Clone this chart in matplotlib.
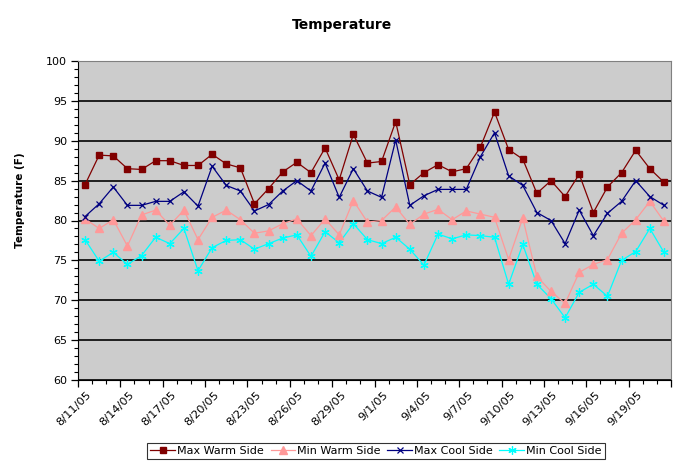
import matplotlib
matplotlib.use("Agg")
import matplotlib.pyplot as plt
from matplotlib.ticker import MultipleLocator, FixedLocator
import numpy as np

# one reading per day, 8/11/05 .. 9/21/05
dates = ["8/11/05", "8/12/05", "8/13/05", "8/14/05", "8/15/05", "8/16/05", "8/17/05",
         "8/18/05", "8/19/05", "8/20/05", "8/21/05", "8/22/05", "8/23/05", "8/24/05",
         "8/25/05", "8/26/05", "8/27/05", "8/28/05", "8/29/05", "8/30/05", "8/31/05",
         "9/1/05", "9/2/05", "9/3/05", "9/4/05", "9/5/05", "9/6/05", "9/7/05",
         "9/8/05", "9/9/05", "9/10/05", "9/11/05", "9/12/05", "9/13/05", "9/14/05",
         "9/15/05", "9/16/05", "9/17/05", "9/18/05", "9/19/05", "9/20/05", "9/21/05"]

max_warm = [84.5, 88.2, 88.1, 86.5, 86.4, 87.5, 87.5, 86.9, 86.9, 88.3, 87.1, 86.6,
            82.1, 84.0, 86.1, 87.3, 86.0, 89.1, 85.1, 90.8, 87.2, 87.4, 92.4, 84.5,
            86.0, 87.0, 86.1, 86.5, 89.2, 93.6, 88.9, 87.7, 83.4, 85.0, 83.0, 85.8,
            81.0, 84.2, 86.0, 88.8, 86.5, 84.8]
min_warm = [80.2, 79.0, 80.1, 76.8, 80.7, 81.3, 79.4, 81.3, 77.6, 80.4, 81.3, 80.1,
            78.4, 78.7, 79.6, 80.2, 78.1, 80.2, 78.2, 82.5, 79.8, 80.0, 81.7, 79.5,
            80.8, 81.4, 80.1, 81.2, 80.8, 80.4, 75.1, 80.3, 73.0, 71.1, 69.6, 73.5,
            74.5, 75.1, 78.4, 80.1, 82.4, 79.9]
max_cool = [80.5, 82.1, 84.2, 81.9, 81.9, 82.4, 82.4, 83.6, 81.8, 86.8, 84.4, 83.7,
            81.2, 82.0, 83.7, 85.0, 83.7, 87.2, 82.9, 86.5, 83.7, 82.9, 90.1, 81.9,
            83.1, 83.9, 83.9, 83.9, 88.0, 91.0, 85.6, 84.4, 81.0, 80.0, 77.1, 81.3,
            78.1, 80.9, 82.4, 85.0, 83.0, 81.9]
min_cool = [77.6, 74.9, 76.0, 74.5, 75.6, 77.9, 77.1, 79.0, 73.7, 76.6, 77.5, 77.6,
            76.4, 77.1, 77.8, 78.2, 75.5, 78.6, 77.2, 79.6, 77.6, 77.1, 77.9, 76.4,
            74.4, 78.3, 77.7, 78.2, 78.1, 77.9, 72.0, 77.0, 72.0, 70.2, 67.8, 71.0,
            72.0, 70.5, 75.0, 76.1, 79.0, 76.0]

plt.rcParams["font.family"] = ["DejaVu Sans"]

fig = plt.figure(figsize=(6.83, 4.67), dpi=100)
ax = fig.add_axes([78 / 683, 1 - 380 / 467, 593 / 683, 319 / 467])
ax.set_facecolor("#CCCCCC")

x = np.arange(len(dates))
asterisk = (6, 2, 0)
ax.plot(x, max_warm, color="#800000", lw=0.9, marker="s", ms=4.5, label="Max Warm Side", zorder=5)
ax.plot(x, min_warm, color="#FF9999", lw=0.9, marker="^", ms=5.5, label="Min Warm Side", zorder=3)
ax.plot(x, max_cool, color="#000080", lw=0.9, marker="x", ms=5, mew=0.9, label="Max Cool Side", zorder=4)
ax.plot(x, min_cool, color="#00FFFF", lw=0.9, marker=asterisk, ms=6, mew=0.9, label="Min Cool Side", zorder=2)

ax.set_xlim(-0.5, len(dates) - 0.5)
ax.set_ylim(60, 100)
ax.yaxis.set_major_locator(MultipleLocator(5))
ax.yaxis.set_minor_locator(MultipleLocator(1))
ax.grid(axis="y", which="major", color="black", lw=1.2, zorder=1)
ax.set_axisbelow(True)

# category axis: ticks between days, labels every third day
ax.xaxis.set_major_locator(FixedLocator(np.arange(-0.5, len(dates), 3)))
ax.xaxis.set_minor_locator(FixedLocator(np.arange(-0.5, len(dates), 1)))
ax.set_xticklabels([])
for i in range(0, len(dates), 3):
    ax.text(i + 0.6, 58.8, dates[i], rotation=45, ha="right", va="top", fontsize=8.2)

ax.tick_params(axis="both", which="major", length=5, width=0.9, direction="out", labelsize=8)
ax.tick_params(axis="both", which="minor", length=3, width=0.8, direction="out")
ax.tick_params(axis="y", pad=3)

for side in ["top", "right"]:
    ax.spines[side].set_color("#808080")
ax.spines["left"].set_color("black")
ax.spines["bottom"].set_color("black")

fig.text(0.5, 1 - 25 / 467, "Temperature", ha="center", va="center", fontsize=10, fontweight="bold")
fig.text(20 / 683, 1 - 200 / 467, "Temperature (F)", rotation=90, ha="center", va="center",
         fontsize=7.5, fontweight="bold")

leg = fig.legend(loc="center", bbox_to_anchor=(376 / 683, 1 - 451 / 467), ncol=4, fontsize=8,
                 frameon=True, fancybox=False, edgecolor="black", handlelength=2.2,
                 handletextpad=0.2, columnspacing=0.6, borderpad=0.3)
leg.get_frame().set_linewidth(0.8)

fig.savefig("out.png", dpi=100)
